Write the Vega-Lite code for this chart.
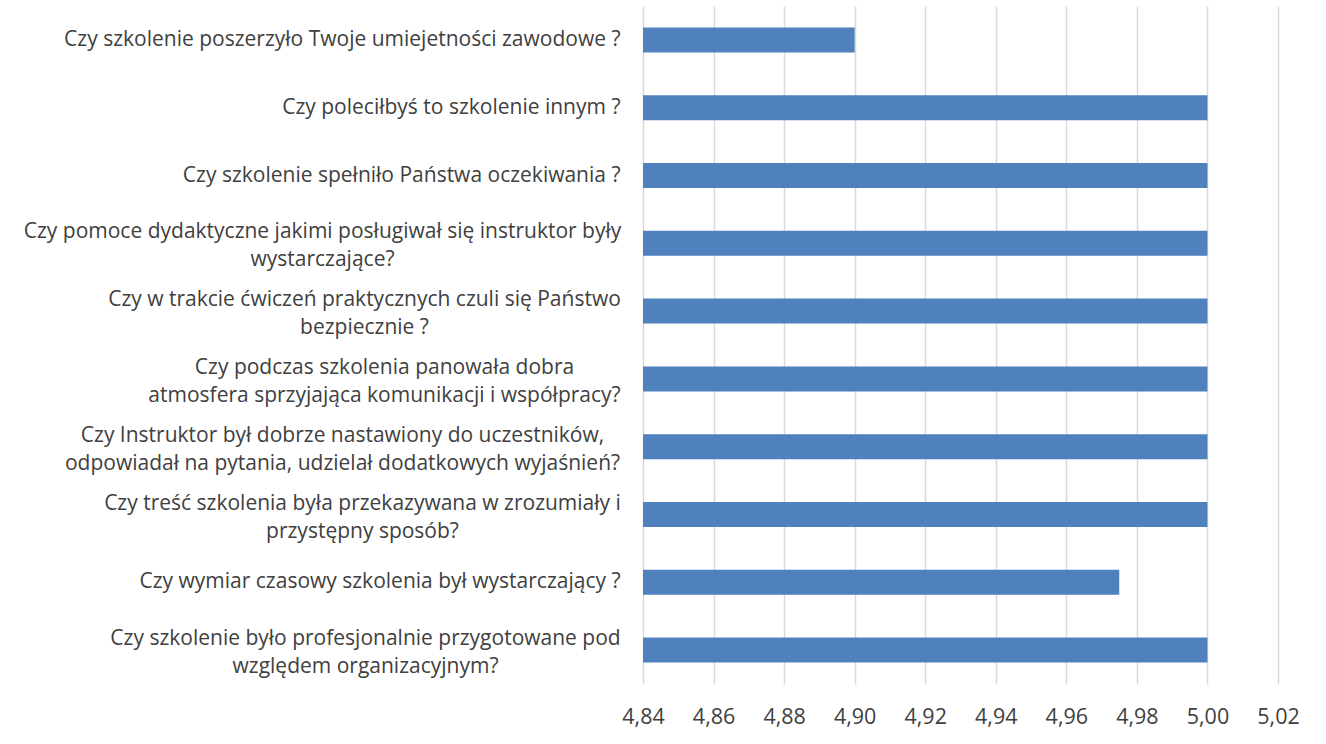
{
  "$schema": "https://vega.github.io/schema/vega-lite/v6.json",
  "autosize": "none",
  "width": 635,
  "height": 678,
  "padding": {"left": 643, "top": 6, "right": 48, "bottom": 60},
  "background": "#ffffff",
  "config": {
    "view": {"stroke": null},
    "font": "Open Sans"
  },
  "data": {
    "values": [
      {"pytanie": "Czy szkolenie poszerzyło Twoje umiejetności zawodowe ?", "ocena": 4.90},
      {"pytanie": "Czy poleciłbyś to szkolenie innym ?", "ocena": 5.00},
      {"pytanie": "Czy szkolenie spełniło Państwa oczekiwania ?", "ocena": 5.00},
      {"pytanie": "Czy pomoce dydaktyczne jakimi posługiwał się instruktor były\nwystarczające?", "ocena": 5.00},
      {"pytanie": "Czy w trakcie ćwiczeń praktycznych czuli się Państwo\nbezpiecznie ?", "ocena": 5.00},
      {"pytanie": "Czy podczas szkolenia panowała dobra\natmosfera sprzyjająca komunikacji  i współpracy?", "ocena": 5.00},
      {"pytanie": "Czy Instruktor był dobrze nastawiony do uczestników,\nodpowiadał na pytania, udzielał dodatkowych wyjaśnień?", "ocena": 5.00},
      {"pytanie": "Czy treść szkolenia była przekazywana w zrozumiały i\nprzystępny sposób?", "ocena": 5.00},
      {"pytanie": "Czy wymiar czasowy szkolenia był wystarczający ?", "ocena": 4.975},
      {"pytanie": "Czy szkolenie było profesjonalnie przygotowane pod\nwzględem organizacyjnym?", "ocena": 5.00}
    ]
  },
  "mark": {"type": "bar", "color": "#4F81BD", "size": 25},
  "encoding": {
    "y": {
      "field": "pytanie",
      "type": "nominal",
      "sort": null,
      "scale": {"paddingInner": 0, "paddingOuter": 0},
      "axis": {
        "title": null,
        "domain": false,
        "ticks": false,
        "labelPadding": {
          "condition": [
            {"test": "indexof(datum.value, 'pomoce') >= 0", "value": 321},
            {"test": "indexof(datum.value, 'trakcie') >= 0", "value": 279},
            {"test": "indexof(datum.value, 'podczas') >= 0", "value": 259},
            {"test": "indexof(datum.value, 'Instruktor') >= 0", "value": 301},
            {"test": "indexof(datum.value, 'treść') >= 0", "value": 281},
            {"test": "indexof(datum.value, 'profesjonalnie') >= 0", "value": 278}
          ],
          "value": 23
        },
        "labelAlign": {
          "condition": {"test": "indexof(datum.value, '\\n') >= 0", "value": "center"},
          "value": "right"
        },
        "labelOffset": {
          "condition": {"test": "indexof(datum.value, '\\n') >= 0", "value": -11},
          "value": 0
        },
        "labelFont": "Open Sans",
        "labelFontSize": 21,
        "labelColor": "#404040",
        "labelLimit": 0,
        "labelLineHeight": 28,
        "labelExpr": "split(datum.label, '\\n')"
      }
    },
    "x": {
      "field": "ocena",
      "type": "quantitative",
      "scale": {"domain": [4.84, 5.02], "zero": false, "nice": false},
      "axis": {
        "title": null,
        "domain": false,
        "ticks": false,
        "values": [4.84, 4.86, 4.88, 4.90, 4.92, 4.94, 4.96, 4.98, 5.00, 5.02],
        "labelExpr": "replace(format(datum.value, '.2f'), '.', ',')",
        "labelPadding": 22,
        "labelFlush": false,
        "labelOverlap": false,
        "labelFont": "Open Sans",
        "labelFontSize": 21.5,
        "labelColor": "#404040",
        "grid": true,
        "gridColor": "#D9D9D9",
        "gridWidth": 1.5
      }
    },
    "x2": {"datum": 4.84}
  }
}
